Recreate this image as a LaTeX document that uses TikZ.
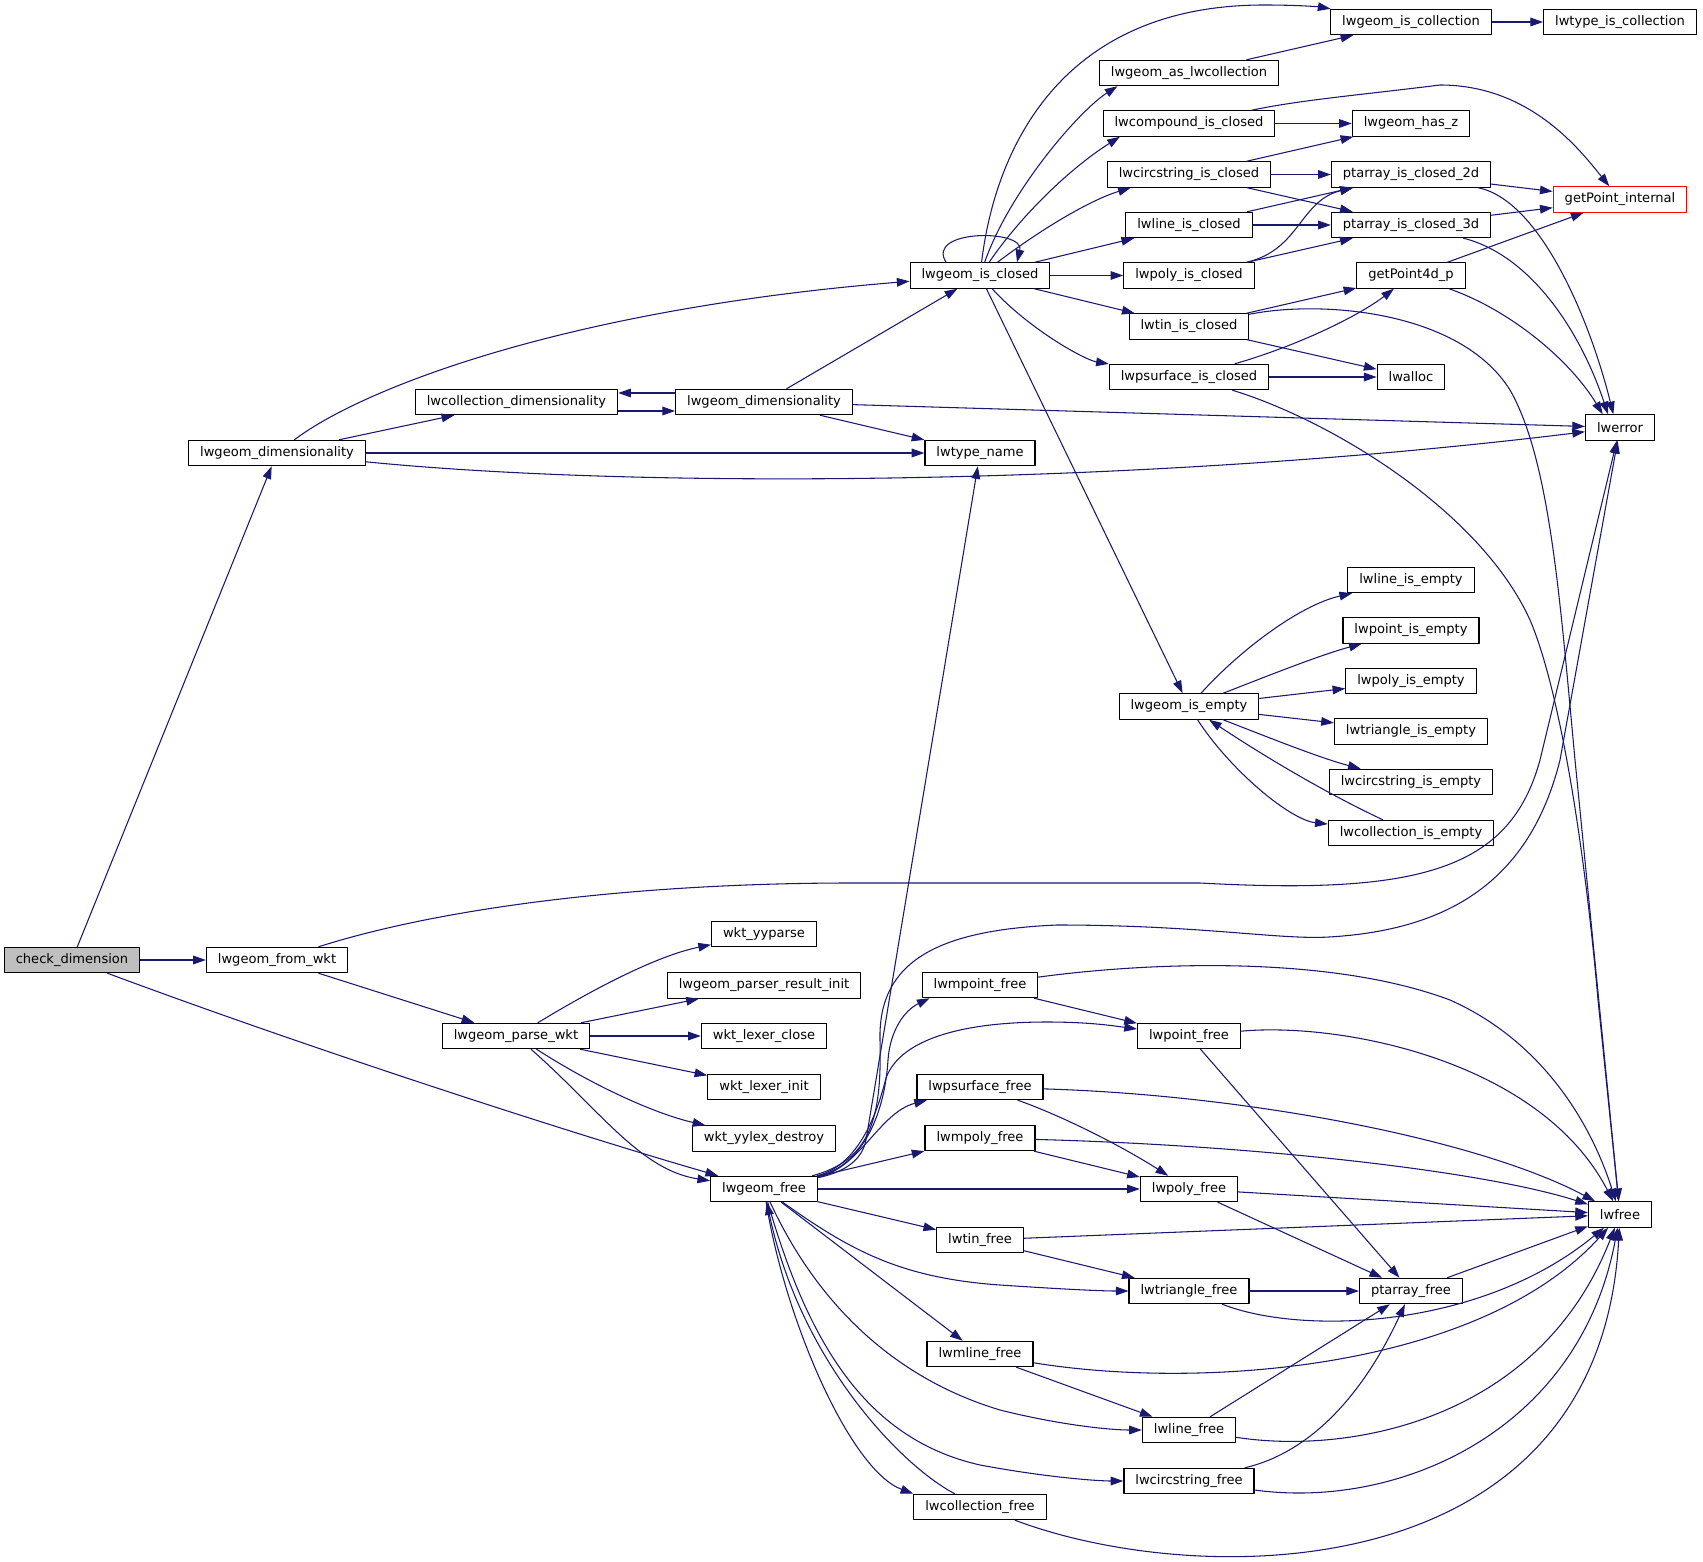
\documentclass[tikz,border=0pt]{standalone}
\usepackage{fontspec}
\setmainfont{DejaVu Sans}
\usepackage{tikz}
\usetikzlibrary{arrows.meta}
\definecolor{midnight}{HTML}{191970}
\def\edgeColor{midnight}
\def\rootFill{black!25}

\begin{document}
\begin{tikzpicture}[line cap=round, line join=round, x=0.75pt, y=-0.75pt,
	func/.style={draw=black, line width=0.9pt, fill=white, inner xsep=8.6pt, inner ysep=0pt, minimum height=19pt, font=\fontsize{9.8pt}{11pt}\selectfont},
	call/.style={draw=\edgeColor, line width=0.8pt, -{Triangle[length=9.5pt, width=6.5pt]}}]
	\useasboundingbox (0,0) rectangle (1703,1562);
	\node[func, fill=\rootFill] (checkDim) at (72,960) {check\_dimension};
	\node[func, draw=red] (pointInternal) at (1620,199.5) {getPoint\_internal};
	\foreach \id/\xpos/\ypos/\txt in {
		fromWkt/277/960/lwgeom\_from\_wkt, geomDimL/277/453/lwgeom\_dimensionality,
		collDim/516.5/402/lwcollection\_dimensionality, geomDimR/764/402/lwgeom\_dimensionality,
		parseWkt/516/1036/lwgeom\_parse\_wkt, isClosed/980/275.5/lwgeom\_is\_closed,
		typeName/980/453/lwtype\_name, yyparse/764/934/wkt\_yyparse,
		resultInit/764/985.5/lwgeom\_parser\_result\_init, lexerClose/764/1036/wkt\_lexer\_close,
		lexerInit/764/1087/wkt\_lexer\_init, yylexDestroy/764/1138.5/wkt\_yylex\_destroy,
		geomFree/764/1189/lwgeom\_free, isCollection/1411/22/lwgeom\_is\_collection,
		typeIsColl/1620/22/lwtype\_is\_collection, asColl/1189/73/lwgeom\_as\_lwcollection,
		compoundClosed/1189/123.5/lwcompound\_is\_closed, hasZ/1411/123.5/lwgeom\_has\_z,
		circClosed/1189/174.5/lwcircstring\_is\_closed, closed2d/1411/174.5/ptarray\_is\_closed\_2d,
		lineClosed/1189/225/lwline\_is\_closed, closed3d/1411/225/ptarray\_is\_closed\_3d,
		polyClosed/1189/275.5/lwpoly\_is\_closed, point4d/1411/275.5/getPoint4d\_p,
		tinClosed/1189/326.5/lwtin\_is\_closed, psurfClosed/1189/377/lwpsurface\_is\_closed,
		alloc/1411/377/lwalloc, error/1620/427.5/lwerror,
		isEmpty/1189/706.5/lwgeom\_is\_empty, lineEmpty/1411/580/lwline\_is\_empty,
		pointEmpty/1411/630.5/lwpoint\_is\_empty, polyEmpty/1411/681/lwpoly\_is\_empty,
		triEmpty/1411/731.5/lwtriangle\_is\_empty, circEmpty/1411/782/lwcircstring\_is\_empty,
		collEmpty/1411/833/lwcollection\_is\_empty, mpointFree/980/985/lwmpoint\_free,
		pointFree/1189/1036/lwpoint\_free, psurfFree/980/1087/lwpsurface\_free,
		mpolyFree/980/1138/lwmpoly\_free, polyFree/1189/1189/lwpoly\_free,
		lwFree/1620/1214.5/lwfree, tinFree/980/1240/lwtin\_free,
		triFree/1189/1291/lwtriangle\_free, ptFree/1411/1291/ptarray\_free,
		mlineFree/980/1354/lwmline\_free, lineFree/1189/1430/lwline\_free,
		circFree/1189/1481/lwcircstring\_free, collFree/980/1507/lwcollection\_free} {
		\node[func] (\id) at (\xpos,\ypos) {\txt};
	}
	\foreach \from/\to in {checkDim/geomDimL, checkDim/fromWkt, geomDimL/collDim, geomDimL/typeName,
		geomDimR/isClosed, geomDimR/typeName, geomDimR/error, fromWkt/parseWkt,
		parseWkt/resultInit, parseWkt/lexerClose, parseWkt/lexerInit,
		isClosed/lineClosed, isClosed/polyClosed, isClosed/tinClosed, isClosed/isEmpty,
		isCollection/typeIsColl, asColl/isCollection, compoundClosed/hasZ, circClosed/hasZ,
		circClosed/closed2d, circClosed/closed3d, lineClosed/closed2d, lineClosed/closed3d,
		polyClosed/closed3d, tinClosed/point4d, tinClosed/alloc, psurfClosed/alloc,
		closed2d/pointInternal, closed3d/pointInternal, point4d/pointInternal,
		isEmpty/polyEmpty, isEmpty/triEmpty, geomFree/mpolyFree, geomFree/polyFree,
		geomFree/tinFree, geomFree/mlineFree, mpointFree/pointFree, mpolyFree/polyFree,
		pointFree/ptFree, polyFree/lwFree, polyFree/ptFree, tinFree/lwFree, tinFree/triFree,
		triFree/ptFree, ptFree/lwFree, mlineFree/lineFree, lineFree/ptFree} {
		\draw[call] (\from) -- (\to);
	}
	\draw[call] ([yshift=6.75pt]geomDimR.west) -- ([yshift=6.75pt]collDim.east);
	\draw[call] ([yshift=-6.75pt]collDim.east) -- ([yshift=-6.75pt]geomDimR.west);
	\draw[call] (geomDimL) .. controls (360,390) and (560,310) .. (isClosed);
	\draw[call] (geomDimL) .. controls (650,490) and (1150,485) .. (error);
	\draw[call] (checkDim) .. controls (300,1045) and (560,1130) .. (geomFree);
	\draw[call] (fromWkt) .. controls (450,905) and (650,883) .. (851,883) -- (1200,883) .. controls (1420,895) and (1510,870) .. (1540,760) -- (error);
	\draw[call] (parseWkt) .. controls (600,985) and (660,955) .. (yyparse);
	\draw[call] (parseWkt) .. controls (600,1090) and (660,1115) .. (yylexDestroy);
	\draw[call] (parseWkt) .. controls (600,1110) and (640,1170) .. (geomFree);

	\draw[call] (isClosed) .. controls (995,150) and (1060,5) .. (1264,5) .. controls (1300,5) and (1320,7) .. (isCollection);
	\draw[call] (isClosed) .. controls (1010,190) and (1080,110) .. ([xshift=14pt]asColl.south west);
	\draw[call] (isClosed) .. controls (1025,210) and (1075,165) .. ([xshift=13pt]compoundClosed.south west);
	\draw[call] (isClosed) .. controls (1040,230) and (1090,200) .. ([xshift=18pt]circClosed.south west);
	\draw[call] ([xshift=-25.5pt]isClosed.north) .. controls (925,229) and (1025,229) .. ([xshift=27.75pt]isClosed.north);
	\draw[call] (isClosed) .. controls (1030,330) and (1085,360) .. (psurfClosed);
	\draw[call] (compoundClosed) .. controls (1300,100) and (1360,95) .. (1440,85) .. controls (1530,85) and (1580,150) .. (pointInternal);
	\draw[call] (polyClosed) .. controls (1300,250) and (1300,200) .. (closed2d);
	\draw[call] (psurfClosed) .. controls (1300,345) and (1360,315) .. (point4d);
	\draw[call] (tinClosed) .. controls (1320,300) and (1460,310) .. (1510,390) .. controls (1550,460) and (1560,600) .. (1575,760) -- (lwFree);
	\draw[call] (psurfClosed) .. controls (1330,420) and (1480,510) .. (1530,620) .. controls (1560,690) and (1585,850) .. (1598,1000) -- (lwFree);
	\draw[call] (closed2d) .. controls (1540,200) and (1590,320) .. ([xshift=-5pt]error.north);
	\draw[call] (closed3d) .. controls (1530,255) and (1580,330) .. ([xshift=-9pt]error.north);
	\draw[call] (point4d) .. controls (1510,310) and (1570,360) .. ([xshift=-13pt]error.north);

	\draw[call] (isEmpty) .. controls (1240,650) and (1300,605) .. (lineEmpty);
	\draw[call] (isEmpty) .. controls (1270,675) and (1320,655) .. (pointEmpty);
	\draw[call] (isEmpty) .. controls (1270,738) and (1320,758) .. (circEmpty);
	\draw[call] (isEmpty) .. controls (1230,770) and (1290,820) .. (collEmpty);
	\draw[call] (collEmpty) .. controls (1330,795) and (1270,760) .. (isEmpty);

	\draw[call] (geomFree) .. controls (845,1172) and (862,1160) .. (866,1140) -- (typeName);
	\draw[call] (geomFree) .. controls (870,1160) and (882,1120) .. (880,1040) .. controls (878,960) and (940,930) .. (1057,925) .. controls (1200,925) and (1280,940) .. (1329,937) .. controls (1450,930) and (1530,880) .. (1560,760) -- (error);
	\draw[call] (geomFree) .. controls (865,1165) and (885,1110) .. (888,1060) .. controls (890,1030) and (905,1010) .. ([xshift=6pt]mpointFree.south west);
	\draw[call] (geomFree) .. controls (860,1165) and (878,1110) .. (886,1078) .. controls (900,1040) and (960,1022) .. (1047,1022) .. controls (1090,1022) and (1115,1026) .. (pointFree);
	\draw[call] (geomFree) .. controls (860,1168) and (880,1112) .. (psurfFree);
	\draw[call] (geomFree) .. controls (850,1250) and (900,1278) .. (1000,1285) .. controls (1060,1289) and (1100,1291) .. (triFree);
	\draw[call] (geomFree) .. controls (820,1310) and (900,1380) .. (1000,1410) .. controls (1060,1425) and (1110,1430) .. (lineFree);
	\draw[call] (geomFree) .. controls (810,1350) and (870,1440) .. (980,1465) .. controls (1050,1478) and (1100,1481) .. (circFree);
	\draw[call] (geomFree) .. controls (785,1320) and (850,1470) .. (collFree.north west);
	\draw[call] (collFree) .. controls (900,1465) and (800,1360) .. (geomFree);

	\draw[call] (mpointFree) .. controls (1150,962) and (1330,955) .. (1450,1000) .. controls (1540,1040) and (1590,1120) .. (lwFree);
	\draw[call] (pointFree) .. controls (1340,1022) and (1540,1060) .. (lwFree);
	\draw[call] (psurfFree) .. controls (1060,1115) and (1120,1145) .. (polyFree);
	\draw[call] (psurfFree) .. controls (1250,1095) and (1480,1140) .. (lwFree);
	\draw[call] (mpolyFree) .. controls (1250,1145) and (1480,1170) .. (lwFree);
	\draw[call] (triFree) .. controls (1300,1335) and (1480,1330) .. (lwFree);
	\draw[call] (mlineFree) .. controls (1200,1390) and (1480,1370) .. (lwFree);
	\draw[call] (lineFree) .. controls (1350,1455) and (1540,1420) .. (lwFree);
	\draw[call] (circFree) .. controls (1320,1450) and (1370,1380) .. (ptFree);
	\draw[call] (circFree) .. controls (1400,1510) and (1580,1430) .. (lwFree);
	\draw[call] (collFree) .. controls (1200,1590) and (1600,1590) .. (lwFree);
\end{tikzpicture}
\end{document}
